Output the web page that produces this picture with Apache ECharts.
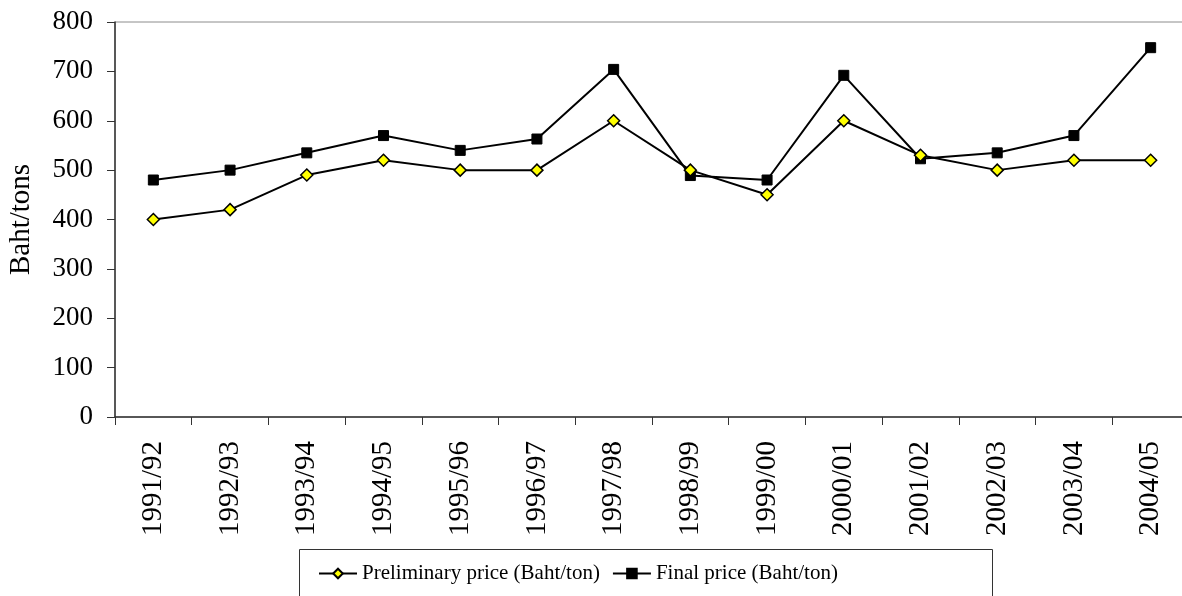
<!DOCTYPE html>
<html>
<head>
<meta charset="utf-8">
<script src="https://cdn.jsdelivr.net/npm/echarts@6/dist/echarts.min.js"></script>
<style>
  html, body { margin: 0; padding: 0; background: #fff; }
  #chart { width: 1182px; height: 596px; }
</style>
</head>
<body>
<div id="chart"></div>
<script>
// Crop seasons
var seasons = ['1991/92', '1992/93', '1993/94', '1994/95', '1995/96', '1996/97', '1997/98',
               '1998/99', '1999/00', '2000/01', '2001/02', '2002/03', '2003/04', '2004/05'];

// Prices in Baht per ton
var preliminaryPrice = [400, 420, 490, 520, 500, 500, 600, 500, 450, 600, 530, 500, 520, 520];
var finalPrice       = [480, 500, 535, 570, 540, 563, 704, 489, 480, 692, 523, 535, 570, 748];

// Value axis ticks
var yMin = 0, yMax = 800, yStep = 100;

var serif = 'Liberation Serif, Times New Roman, serif';

var chart = echarts.init(document.getElementById('chart'), null, { renderer: 'canvas' });

chart.setOption({
  animation: false,
  backgroundColor: '#ffffff',
  grid: {
    left: 115, top: 22, right: -7, bottom: 179,
    containLabel: false,
    outerBoundsMode: 'none',
    show: true, borderColor: '#8c8c8c', borderWidth: 1
  },
  xAxis: {
    type: 'category',
    data: seasons,
    boundaryGap: true,
    axisLine: { lineStyle: { color: '#333333', width: 1.5 } },
    axisTick: { show: true, length: 8, lineStyle: { color: '#333333', width: 1 } },
    axisLabel: {
      rotate: 90, margin: 24, interval: 0,
      fontFamily: serif, fontSize: 29, color: '#000'
    }
  },
  yAxis: {
    type: 'value',
    min: yMin, max: yMax, interval: yStep,
    name: 'Baht/tons',
    nameLocation: 'middle',
    nameGap: 79,
    nameTextStyle: { fontFamily: serif, fontSize: 29, color: '#000' },
    splitLine: { show: false },
    axisLine: { show: true, lineStyle: { color: '#333333', width: 1.5 } },
    axisTick: { show: true, length: 8, lineStyle: { color: '#333333', width: 1 } },
    axisLabel: { margin: 22, fontFamily: serif, fontSize: 27, color: '#000' }
  },
  legend: {
    left: 318, top: 563,
    padding: 0,
    itemWidth: 38, itemHeight: 12, itemGap: 12,
    textStyle: { fontFamily: serif, fontSize: 21, color: '#000' },
    data: ['Preliminary price (Baht/ton)', 'Final price (Baht/ton)']
  },
  graphic: [{
    type: 'rect',
    left: 297, top: 547,
    shape: { width: 693, height: 60 },
    style: { fill: 'none', stroke: '#333333', lineWidth: 1 },
    z: 0
  }],
  series: [
    {
      name: 'Preliminary price (Baht/ton)',
      type: 'line',
      data: preliminaryPrice,
      symbol: 'diamond',
      symbolSize: 12,
      lineStyle: { color: '#000', width: 2 },
      itemStyle: { color: '#ffff00', borderColor: '#000', borderWidth: 1.5 },
      z: 3
    },
    {
      name: 'Final price (Baht/ton)',
      type: 'line',
      data: finalPrice,
      symbol: 'rect',
      symbolSize: 10,
      lineStyle: { color: '#000', width: 2 },
      itemStyle: { color: '#000', borderColor: '#000', borderWidth: 1 },
      z: 2
    }
  ]
});
</script>
</body>
</html>
